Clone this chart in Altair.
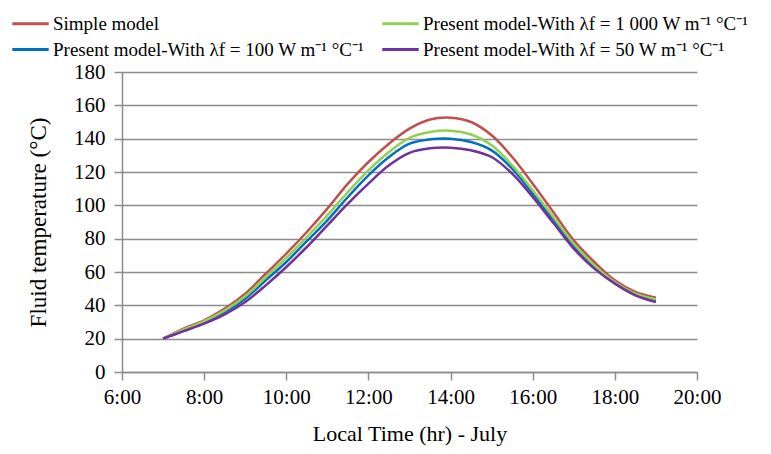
import altair as alt
import pandas as pd

hours = [7, 7.5, 8, 8.5, 9, 9.5, 10, 10.5, 11, 11.5, 12, 12.5, 13, 13.5, 14,
         14.5, 15, 15.5, 16, 16.5, 17, 17.5, 18, 18.5, 19]
simple = [20, 26, 31, 38, 47, 59, 71, 84, 98, 113, 126, 137, 146, 151.5, 152.6,
          150, 142, 129, 113, 96, 79, 66, 55, 48, 44.5]
lam1000 = [20, 25.5, 30.5, 37, 45.5, 57, 68.5, 81, 94, 108, 121, 132, 140.5, 144, 144.8,
           142.5, 136, 124, 109, 93, 77, 64, 54, 47, 43.6]
lam100 = [20, 25, 30, 36, 44, 55, 66, 78.5, 91, 105, 118, 129, 137, 139.6, 140,
          138, 133, 122, 107, 91.5, 76, 63, 53.5, 46.5, 43]
lam50 = [20, 24.5, 29, 34.6, 42, 52, 63, 75, 88, 101, 113, 124, 131.5, 134.2, 134.6,
         133, 129, 119, 105, 89.5, 74, 62, 53, 46, 42]

# legend order (column-major fill): Simple, 100 | 1000, 50
series_names = [
    "Simple model",
    "Present model-With λf = 100 W m⁻¹ °C⁻¹",
    "Present model-With λf = 1 000 W m⁻¹ °C⁻¹",
    "Present model-With λf = 50 W m⁻¹ °C⁻¹",
]
series_values = [simple, lam100, lam1000, lam50]
series_colors = ["#c0504d", "#0070c0", "#92d050", "#7030a0"]
x_ticks = [6, 8, 10, 12, 14, 16, 18, 20]
y_ticks = [0, 20, 40, 60, 80, 100, 120, 140, 160, 180]

rows = []
for name, vals in zip(series_names, series_values):
    for h, v in zip(hours, vals):
        rows.append({"hour": h, "temp": v, "series": name})
df = pd.DataFrame(rows)

FONT = "Liberation Serif"

chart = alt.Chart(df).mark_line(strokeWidth=2.5, interpolate="catmull-rom").encode(
    x=alt.X("hour:Q",
            scale=alt.Scale(domain=[6, 20], nice=False, zero=False),
            axis=alt.Axis(values=x_ticks, labelExpr="datum.value + ':00'",
                          title="Local Time  (hr) - July", grid=False, labelFlush=False,
                          tickSize=8, titlePadding=16, labelPadding=6,
                          titleFontSize=22)),
    y=alt.Y("temp:Q",
            scale=alt.Scale(domain=[0, 180], nice=False),
            axis=alt.Axis(values=y_ticks, title="Fluid temperature (°C)",
                          grid=True, tickSize=8, titlePadding=23, labelPadding=9,
                          titleFontSize=23)),
    color=alt.Color("series:N",
                    scale=alt.Scale(domain=series_names, range=series_colors),
                    sort=series_names,
                    legend=alt.Legend(title=None, orient="none", legendX=-107, legendY=-64,
                                      columns=2, symbolType="M-1.3,0H1.3", symbolSize=784,
                                      symbolStrokeWidth=3, labelFont=FONT, labelFontSize=19,
                                      labelColor="#000", rowPadding=-5, columnPadding=11,
                                      labelOffset=7, labelLimit=420)),
).properties(
    width=575, height=300,
    autosize=alt.AutoSizeParams(type="none"),
    padding={"left": 122, "top": 72, "right": 74, "bottom": 82},
    background="white",
).configure_view(stroke=None).configure_axis(
    labelFont=FONT, titleFont=FONT, labelFontSize=21,
    labelColor="#000", titleColor="#000", titleFontWeight="normal",
    domainColor="#8c8c8c", tickColor="#8c8c8c", gridColor="#8c8c8c",
    domainWidth=1.5, tickWidth=1.5, gridWidth=1.3,
)

chart.save("out.html", embed_options={"renderer": "svg", "actions": False})
